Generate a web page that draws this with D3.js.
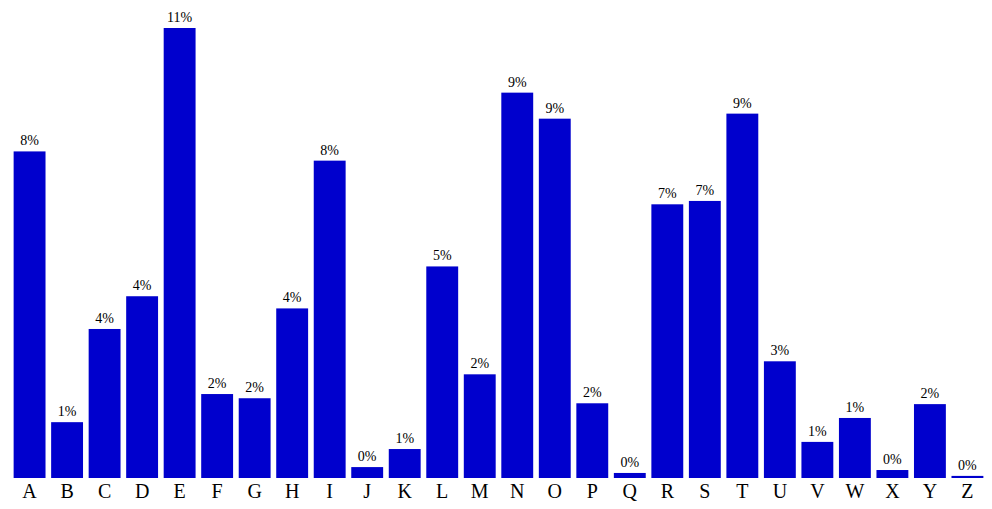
<!DOCTYPE html>
<meta charset="utf-8">
<style>
body { margin: 0; background: #fff; }
text { font-family: "Liberation Serif", "Times New Roman", serif; }
</style>
<svg width="992" height="509"></svg>
<script src="https://cdn.jsdelivr.net/npm/d3@7"></script>
<script>
// letters and their share
var letters = ["A","B","C","D","E","F","G","H","I","J","K","L","M",
               "N","O","P","Q","R","S","T","U","V","W","X","Y","Z"];
var freq = [0.0778, 0.0133, 0.0355, 0.0433, 0.1072, 0.0200, 0.0190, 0.0404, 0.0756, 0.0026,
            0.0069, 0.0504, 0.0247, 0.0918, 0.0856, 0.0178, 0.0012, 0.0652, 0.0660, 0.0868,
            0.0278, 0.0086, 0.0143, 0.0019, 0.0176, 0.0005];

var svg = d3.select("svg"),
    baseY = 478, topY = 28;

var x = d3.scaleBand()
    .domain(letters)
    .range([8, 989])
    .padding(0.15);

var y = d3.scaleLinear()
    .domain([0, d3.max(freq)])
    .range([baseY, topY]);

var data = letters.map(function(l, i) { return {letter: l, value: freq[i]}; });

svg.selectAll("rect.bar")
  .data(data)
  .enter().append("rect")
    .attr("class", "bar")
    .attr("x", function(d) { return x(d.letter); })
    .attr("width", x.bandwidth())
    .attr("y", function(d) { return y(d.value); })
    .attr("height", function(d) { return baseY - y(d.value); })
    .attr("fill", "mediumblue");

svg.selectAll("text.lbl")
  .data(data)
  .enter().append("text")
    .attr("class", "lbl")
    .attr("x", function(d) { return x(d.letter) + x.bandwidth() / 2; })
    .attr("y", function(d) { return y(d.value) - 6; })
    .attr("text-anchor", "middle")
    .attr("font-size", 14)
    .attr("fill", "#000")
    .text(function(d) { return Math.round(d.value * 100) + "%"; });

var xAxis = svg.append("g")
    .attr("transform", "translate(0," + baseY + ")")
    .call(d3.axisBottom(x).tickSize(0).tickPadding(6));
xAxis.select(".domain").remove();
xAxis.selectAll("text")
    .attr("font-size", 20)
    .attr("font-family", "Liberation Serif, serif")
    .attr("fill", "#000");
</script>
